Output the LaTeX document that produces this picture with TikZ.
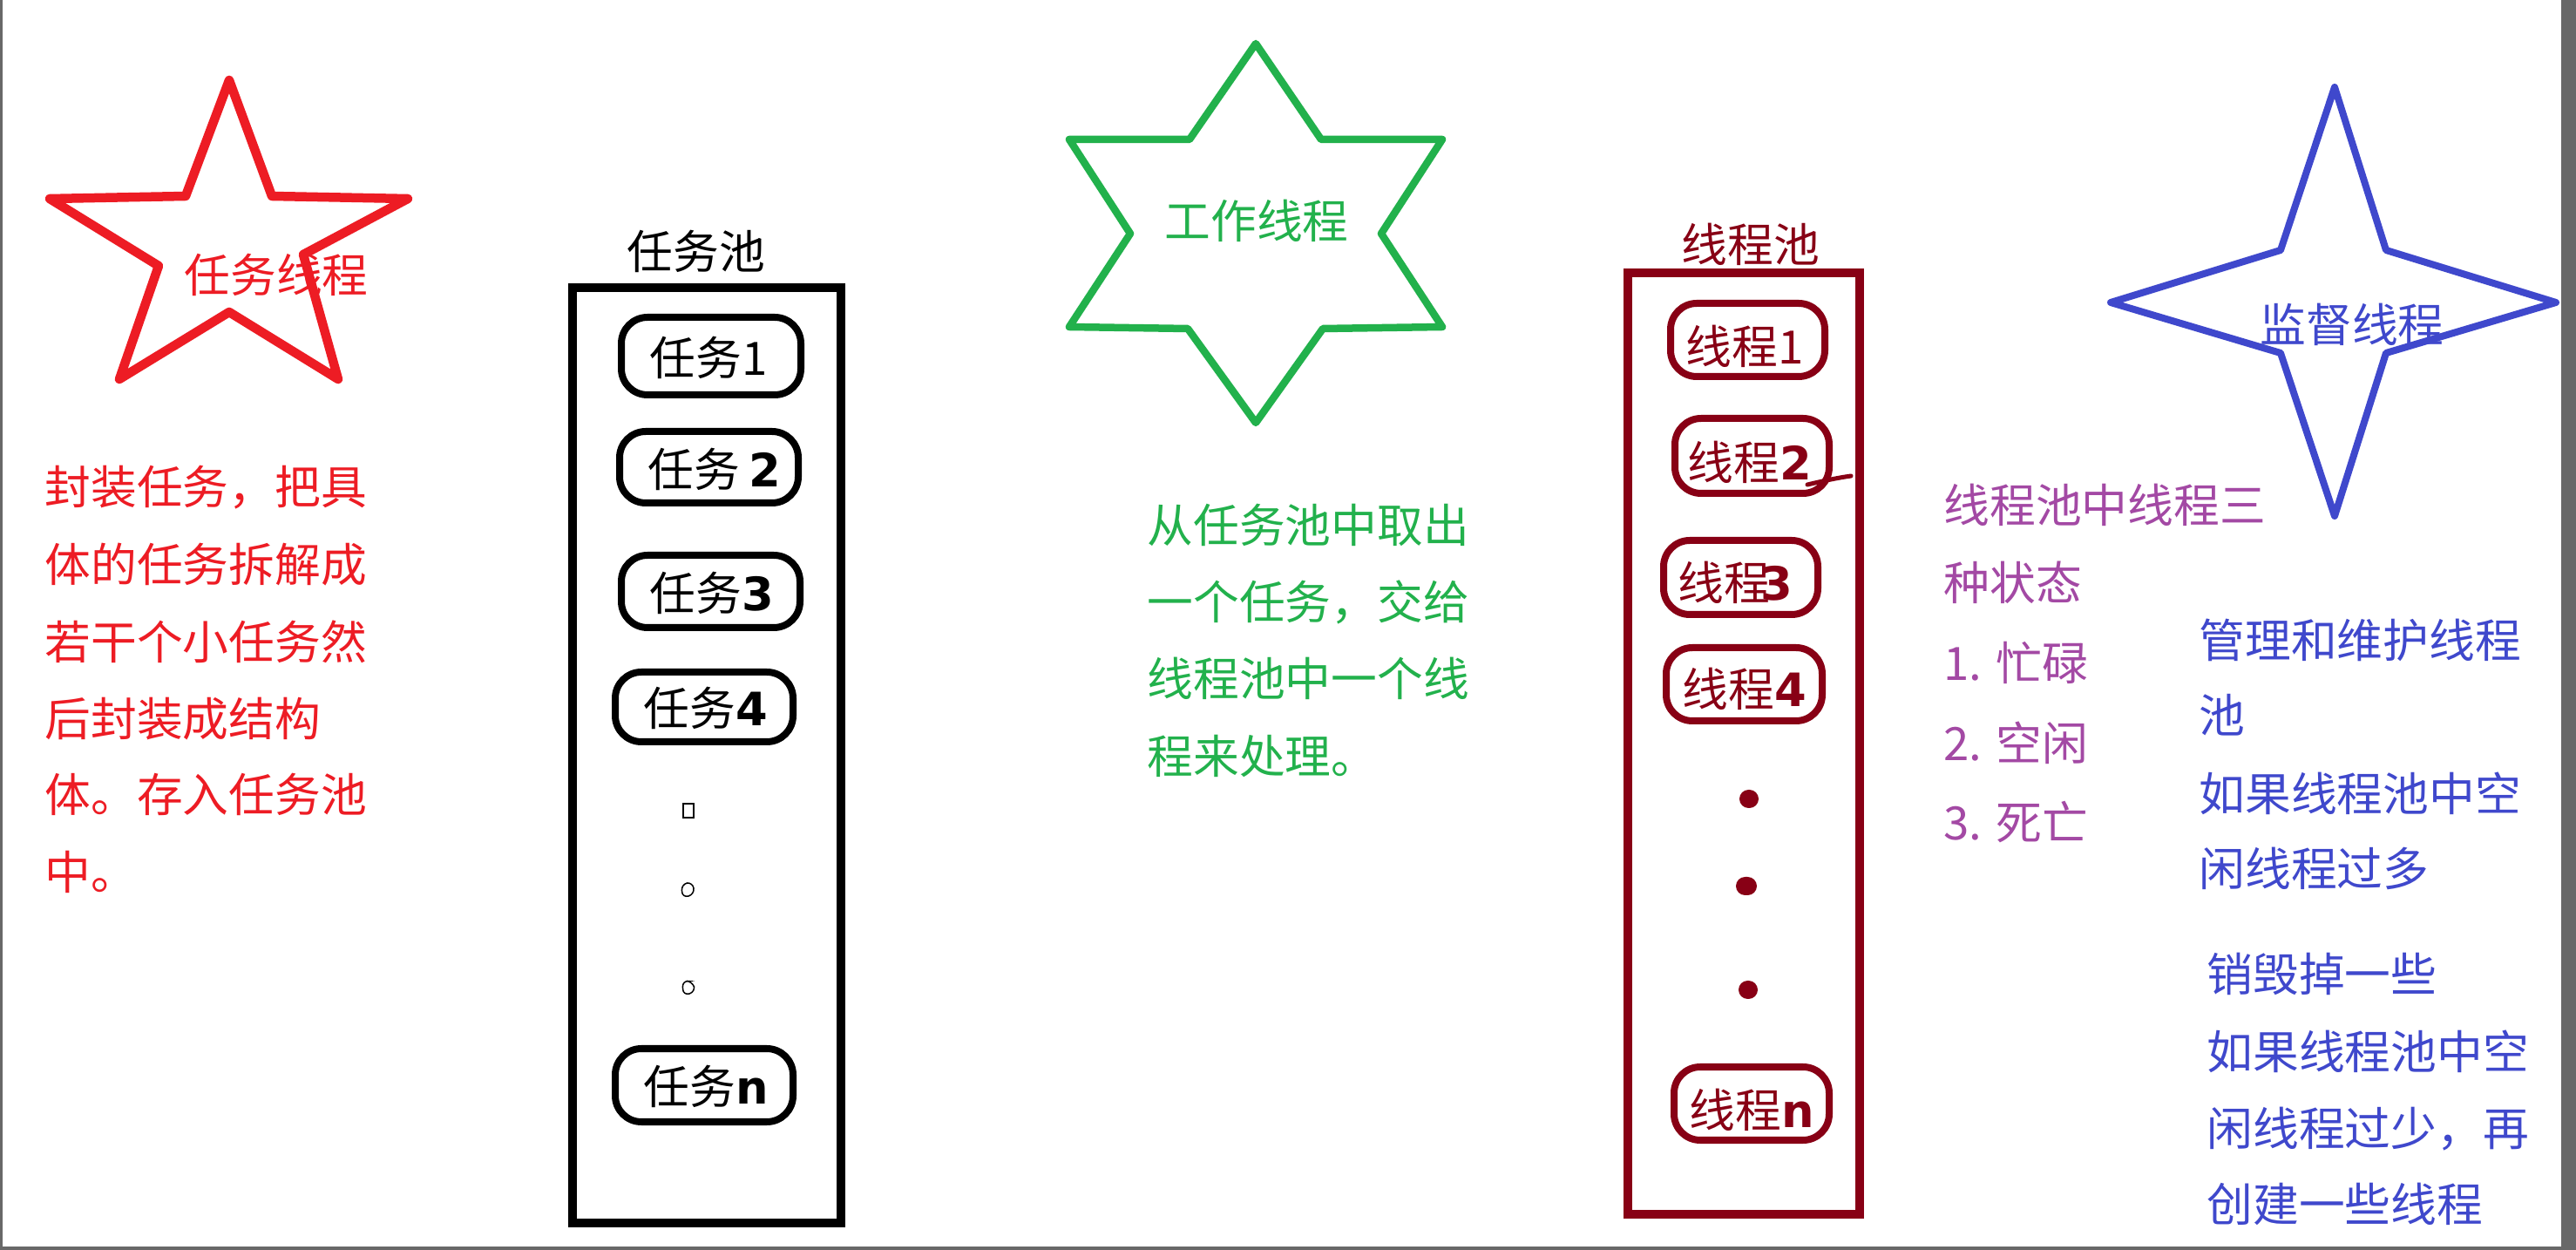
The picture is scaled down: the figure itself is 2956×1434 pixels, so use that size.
\documentclass[tikz,border=0pt]{standalone}
\usepackage{fontspec}
\newfontfamily\cjk{Noto Sans CJK SC}
\newfontfamily\hand{DejaVu Sans}
\definecolor{cred}{HTML}{ED1C24}
\definecolor{cgreen}{HTML}{22B14C}
\definecolor{cdred}{HTML}{880015}
\definecolor{cblue}{HTML}{3F48CC}
\definecolor{cpurple}{HTML}{A349A4}
\definecolor{edgegray}{HTML}{686868}
\tikzset{
  txt/.style={font=\cjk\fontsize{15pt}{18pt}\selectfont, inner sep=0pt},
  ltxt/.style={txt, anchor=west},
  starline/.style={line width=0.105cm, line join=round},
  poolbox/.style={draw, line width=0.1cm},
  itembox/.style={draw, line width=0.08cm, rounded corners=0.3cm},
}
\newcommand{\hd}[1]{{\hand\bfseries\fontsize{15pt}{18pt}\selectfont #1}}
\begin{document}
\begin{tikzpicture}[x=0.01cm,y=-0.01cm]
\useasboundingbox (0,0) rectangle (2956,1434);
\fill[white] (0,0) rectangle (2956,1434);
\fill[edgegray] (0,0) rectangle (3,1434);
\fill[edgegray] (2939,0) rectangle (2956,1434);
\fill[edgegray] (0,1430) rectangle (2956,1434);

% ---- red star: task thread
\draw[starline, cred] (263,92) -- (213,225) -- (57,228) -- (182,305) -- (137,435) -- (263,358) -- (388,435) -- (348,292) -- (468,228) -- (312,225) -- cycle;
\node[txt, text=cred] (taskstar) at (317,315) {任务线程};
\foreach \t/\yy [count=\i] in {封装任务，把具/559, 体的任务拆解成/648, 若干个小任务然/736, 后封装成结构/825, 体。存入任务池/911, 中。/1000}
  \node[ltxt, text=cred] (red\i) at (51,\yy) {\t};

% ---- task pool
\node[txt] (tplabel) at (799,288) {任务池};
\draw[poolbox] (657,330) rectangle (965,1403);
\draw[itembox] (713,364) rectangle (919,453);
\node[ltxt] (task1) at (745,410) {任务1};
\draw[itembox] (711,495) rectangle (916,577);
\node[ltxt] (task2) at (743,538) {任务\hspace{3pt}\hd{2}};
\draw[itembox] (713,637) rectangle (918,720);
\node[ltxt] (task3) at (745,680) {任务\hd{3}};
\draw[itembox] (706,771) rectangle (910,851);
\node[ltxt] (task4) at (738,812) {任务\hd{4}};
\draw[line width=0.015cm] (784,922) rectangle (796,938);
\draw[line width=0.015cm, rounded corners=2pt] (782,1014) -- (795,1012) -- (797,1026) -- (783,1030) -- cycle;
\draw[line width=0.015cm, rounded corners=2pt] (783,1125) -- (795,1126) -- (798,1138) -- (784,1142) -- cycle;
\draw[itembox] (706,1203) rectangle (910,1287);
\node[ltxt] (taskn) at (738,1246) {任务\hd{n}};

% ---- green star: worker thread
\draw[starline, cgreen, line width=0.085cm] (1441,50) -- (1516,160) -- (1655,160) -- (1585,268) -- (1655,375) -- (1518,377) -- (1441,485) -- (1363,377) -- (1227,375) -- (1297,268) -- (1227,160) -- (1365,160) -- cycle;
\node[txt, text=cgreen] (workstar) at (1442,253) {工作线程};
\foreach \t/\yy [count=\i] in {从任务池中取出/602, 一个任务，交给/691, 线程池中一个线/778, 程来处理。/867}
  \node[ltxt, text=cgreen] (green\i) at (1316,\yy) {\t};

% ---- thread pool
\node[txt, text=cdred] (thlabel) at (2009,280) {线程池};
\draw[poolbox, cdred] (1868,313) rectangle (2134,1393);
\draw[itembox, cdred] (1917,348) rectangle (2094,432);
\node[ltxt, text=cdred] (th1) at (1934,397) {线程1};
\draw[itembox, cdred] (1922,480) rectangle (2099,566);
\node[ltxt, text=cdred] (th2) at (1936,530) {线程\hd{2}};
\draw[cdred, line width=0.05cm, line cap=round] (2074,556) .. controls (2095,551) and (2110,548) .. (2124,546);
\draw[itembox, cdred] (1909,620) rectangle (2086,705);
\node[ltxt, text=cdred] (th3) at (1925,668) {线程\hspace{-3pt}\hd{3}};
\draw[itembox, cdred] (1912,743) rectangle (2091,827);
\node[ltxt, text=cdred] (th4) at (1930,790) {线程\hd{4}};
\fill[cdred, rounded corners=3pt] (1996,906) rectangle (2018,927);
\fill[cdred, rounded corners=3pt] (1992,1006) rectangle (2016,1027);
\fill[cdred, rounded corners=3pt] (1995,1125) rectangle (2017,1146);
\draw[itembox, cdred] (1921,1224) rectangle (2099,1308);
\node[ltxt, text=cdred] (thn) at (1938,1273) {线程\hd{n}};

% ---- purple notes
\foreach \t/\yy [count=\i] in {线程池中线程三/579, 种状态/668, 1. 忙碌/760, 2. 空闲/852, 3. 死亡/943}
  \node[ltxt, text=cpurple] (purple\i) at (2230,\yy) {\t};

% ---- blue star: monitor thread
\draw[starline, cblue, line width=0.08cm] (2679,100) -- (2738,287) -- (2933,347) -- (2738,405) -- (2679,592) -- (2617,405) -- (2422,347) -- (2617,287) -- cycle;
\node[txt, text=cblue] (monstar) at (2699,372) {监督线程};
\foreach \t/\yy [count=\i] in {管理和维护线程/734, 池/820, 如果线程池中空/910, 闲线程过多/996}
  \node[ltxt, text=cblue] (blueA\i) at (2523,\yy) {\t};
\foreach \t/\yy [count=\i] in {销毁掉一些/1117, 如果线程池中空/1206, 闲线程过少，再/1295, 创建一些线程/1381}
  \node[ltxt, text=cblue] (blueB\i) at (2532,\yy) {\t};
\end{tikzpicture}
\end{document}
